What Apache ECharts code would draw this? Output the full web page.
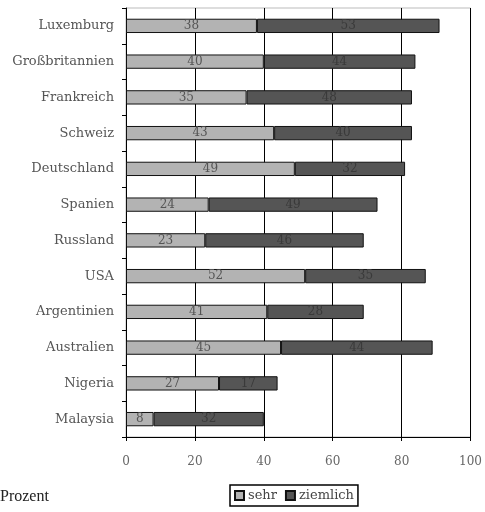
<!DOCTYPE html>
<html><head><meta charset="utf-8">
<script src="https://cdn.jsdelivr.net/npm/echarts@6/dist/echarts.min.js"></script>
<style>html,body{margin:0;padding:0;background:#fff}#c{width:485px;height:512px}</style>
</head><body><div id="c"></div>
<script>
const categories = ["Luxemburg","Großbritannien","Frankreich","Schweiz","Deutschland","Spanien","Russland","USA","Argentinien","Australien","Nigeria","Malaysia"];
const sehr = [38,40,35,43,49,24,23,52,41,45,27,8];
const ziemlich = [53,44,48,40,32,49,46,35,28,44,17,32];
const xTicks = [0,20,40,60,80,100];

const font = '"DejaVu Serif", "Liberation Serif", serif';
const chart = echarts.init(document.getElementById('c'));
chart.setOption({
  backgroundColor: '#fff',
  animation: false,
  textStyle: {fontFamily: font},
  grid: {left: 126, right: 12, top: 8, bottom: 75, show: true, borderColor: '#bbb', borderWidth: 1},
  legend: {
    data: ['sehr','ziemlich'], left: 230, top: 485, orient: 'horizontal',
    itemWidth: 9, itemHeight: 9, itemGap: 8, padding: [4,4],
    borderColor: '#000', borderWidth: 1.5, icon: 'rect',
    textStyle: {fontFamily: font, fontSize: 13, color: '#444', padding: [0,0,0,-1]}
  },
  graphic: [{type:'text', left: 0, top: 489, style:{text:'Prozent', font: '16px "Liberation Serif", serif', fill:'#222'}}],
  xAxis: {
    type: 'value', min: 0, max: 100, interval: 20,
    axisLine: {show: true, lineStyle: {color: '#000'}},
    axisTick: {show: true, length: 4, lineStyle: {color: '#000'}},
    axisLabel: {color: '#666', fontSize: 12, margin: 19, fontFamily: font,
      formatter: v => xTicks.includes(v) ? String(v) : ''},
    splitLine: {show: true, lineStyle: {color: '#000', width: 1}}
  },
  yAxis: {
    type: 'category', data: categories, inverse: true,
    axisLine: {show: true, lineStyle: {color: '#000'}},
    axisTick: {show: true, length: 4, lineStyle: {color: '#000'}},
    axisLabel: {color: '#555', fontSize: 13, margin: 12, fontFamily: font}
  },
  series: [
    {name: 'sehr', type: 'bar', stack: 't', data: sehr, barWidth: '40%',
     itemStyle: {color: '#b3b3b3', borderColor: '#111', borderWidth: 1},
     label: {show: true, position: 'inside', color: '#555', fontSize: 12, fontFamily: font}},
    {name: 'ziemlich', type: 'bar', stack: 't', data: ziemlich, barWidth: '40%',
     itemStyle: {color: '#555555', borderColor: '#111', borderWidth: 1},
     label: {show: true, position: 'inside', color: '#3a3a3a', fontSize: 12, fontFamily: font}}
  ]
});
</script></body></html>
